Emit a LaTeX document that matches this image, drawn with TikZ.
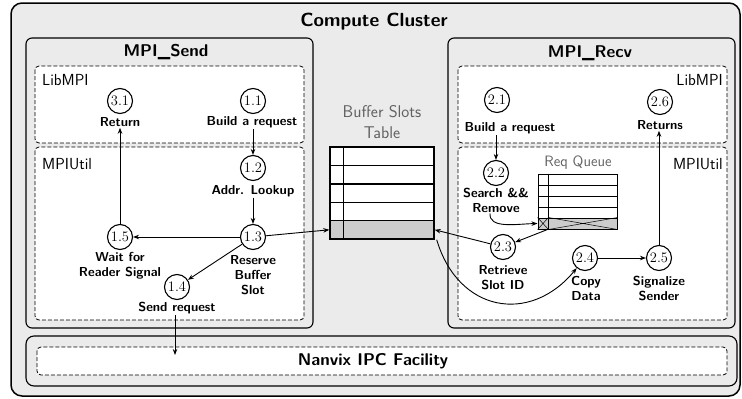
\documentclass[tikz,border=0pt]{standalone}
\usepackage{fontspec}
\usetikzlibrary{arrows.meta}
\begin{document}
\begin{tikzpicture}[x=1pt,y=-1pt,
  outerbox/.style={draw, line width=1.5pt, rounded corners=11pt, fill=black!8},
  modbox/.style={draw, line width=1.1pt, rounded corners=6pt, fill=black!8},
  layerbox/.style={draw, line width=0.8pt, dash pattern=on 4pt off 2pt, rounded corners=4pt, fill=white},
  maintitle/.style={font=\sffamily\bfseries\fontsize{19}{22}\selectfont},
  modtitle/.style={font=\sffamily\bfseries\fontsize{17}{20}\selectfont},
  layerlbl/.style={font=\sffamily\fontsize{16}{19}\selectfont, inner sep=0pt},
  stepc/.style={circle, draw, line width=1.1pt, fill=white, minimum size=25pt, inner sep=0pt, font=\rmfamily\fontsize{14.5}{16}\selectfont},
  steplbl/.style={font=\sffamily\bfseries\fontsize{13}{15}\selectfont, align=center, inner sep=1pt},
  tabtitle/.style={font=\sffamily\fontsize{17}{21}\selectfont, text=black!62, align=center},
  qtitle/.style={font=\sffamily\fontsize{15}{18}\selectfont, text=black!62},
  arr/.style={-{Stealth[length=6pt,width=4.5pt]}, line width=0.9pt},
  brow/.style={draw, line width=1.4pt, fill=white, minimum width=104pt, minimum height=18.4pt, inner sep=0pt},
  qrow/.style={draw, line width=1pt, fill=white, minimum width=79pt, minimum height=11pt, inner sep=0pt},
  slotgray/.style={fill=black!20}
]
\useasboundingbox (0,0) rectangle (742,399);

% outer cluster
\draw[outerbox] (11,3) rectangle (740,396);
\node[maintitle] (cct) at (374,22) {Compute Cluster};

% MPI_Send
\draw[modbox] (26,38) rectangle (313,328);
\node[modtitle] (sendt) at (166,52) {MPI\_Send};
\draw[layerbox] (35,66) rectangle (304,143);
\draw[layerbox] (35,147) rectangle (304,320);
\node[layerlbl, anchor=west] (lib1) at (42,80) {LibMPI};
\node[layerlbl, anchor=west] (util1) at (42,164) {MPIUtil};

% MPI_Recv
\draw[modbox] (448,38) rectangle (735,328);
\node[modtitle] (recvt) at (590,53) {MPI\_Recv};
\draw[layerbox] (458,66) rectangle (727,143);
\draw[layerbox] (458,147) rectangle (727,320);
\node[layerlbl, anchor=east] (lib2) at (723,80) {LibMPI};
\node[layerlbl, anchor=east] (util2) at (723,164) {MPIUtil};

% Nanvix
\draw[modbox, rounded corners=8pt] (26,336) rectangle (737,386);
\draw[layerbox] (37,347) rectangle (727,375);
\node[modtitle] (nvt) at (373,361) {Nanvix IPC Facility};
\coordinate (ipcin) at (175,355);

% Buffer Slots Table
\node[tabtitle] (btt) at (382,122) {Buffer Slots\\Table};
\node[brow] (bt1) at (382,156.2) {};
\node[brow] (bt2) at (382,174.6) {};
\node[brow] (bt3) at (382,193.0) {};
\node[brow] (bt4) at (382,211.4) {};
\node[brow, slotgray] (bt5) at (382,229.8) {};
\draw[line width=1.4pt] ([xshift=14pt]bt1.north west) -- ([xshift=14pt]bt5.south west);

% Req Queue
\node[qtitle] (qt) at (578,163) {Req Queue};
\node[qrow] (q1) at (577.5,179.5) {};
\node[qrow] (q2) at (577.5,190.5) {};
\node[qrow] (q3) at (577.5,201.5) {};
\node[qrow] (q4) at (577.5,212.5) {};
\node[qrow, slotgray] (q5) at (577.5,223.5) {};
\draw[line width=1pt] ([xshift=11pt]q1.north west) -- ([xshift=11pt]q5.south west);
\draw[line width=0.5pt] (q5.north west) -- ([xshift=11pt]q5.south west)
  (q5.south west) -- ([xshift=11pt]q5.north west)
  ([xshift=11pt]q5.north west) -- (q5.south east)
  ([xshift=11pt]q5.south west) -- (q5.north east);

% Send steps
\node[stepc] (c31) at (120,101) {3.1};
\node[steplbl] (l31) at (120,122) {Return};
\node[stepc] (c11) at (253,101) {1.1};
\node[steplbl] (l11) at (252,122) {Build a request};
\node[stepc] (c12) at (253,168) {1.2};
\node[steplbl] (l12) at (253,191) {Addr. Lookup};
\node[stepc] (c13) at (253,237) {1.3};
\node[steplbl] (l13) at (253,275) {Reserve\\Buffer\\Slot};
\node[stepc] (c15) at (120,237) {1.5};
\node[steplbl] (l15) at (120,266) {Wait for\\Reader Signal};
\node[stepc] (c14) at (177,287) {1.4};
\node[steplbl] (l14) at (177,308) {Send request};

% Recv steps
\node[stepc] (c21) at (497,100) {2.1};
\node[steplbl] (l21) at (510,128) {Build a request};
\node[stepc] (c26) at (660,102) {2.6};
\node[steplbl] (l26) at (660,125) {Returns};
\node[stepc] (c22) at (496,173) {2.2};
\node[steplbl] (l22) at (496,200) {Search \&\&\\Remove};
\node[stepc] (c23) at (503,247) {2.3};
\node[steplbl] (l23) at (503,278) {Retrieve\\Slot ID};
\node[stepc] (c24) at (585,258) {2.4};
\node[steplbl] (l24) at (586,288) {Copy\\Data};
\node[stepc] (c25) at (659,258) {2.5};
\node[steplbl] (l25) at (659,288) {Signalize\\Sender};

% Send arrows
\draw[arr] (c12 |- l11.south) -- (c12);
\draw[arr] (c13 |- l12.south) -- (c13);
\draw[arr] (c13) -- (c15);
\draw[arr] (c13) -- (c14);
\draw[arr] (c15) -- (c15 |- l31.south);
\draw[arr] (c13) -- (bt5.west);
\draw[arr] (l14.south -| ipcin) -- (ipcin);

% Recv arrows
\draw[arr] (c22 |- l21.south) -- (c22);
\draw[arr] ([xshift=-6pt]l22.south) .. controls (489,229) and (516,224) .. (q5.west);
\draw[arr] ([xshift=10pt]q5.south west) -- (c23);
\draw[arr] (c23) -- (bt5.east);
\draw[arr] ([xshift=2pt]bt5.south east) .. controls (458,312) and (530,325) .. (c24);
\draw[arr] (c24) -- (c25);
\draw[arr] (c25) -- (c25 |- l26.south);
\end{tikzpicture}
\end{document}
